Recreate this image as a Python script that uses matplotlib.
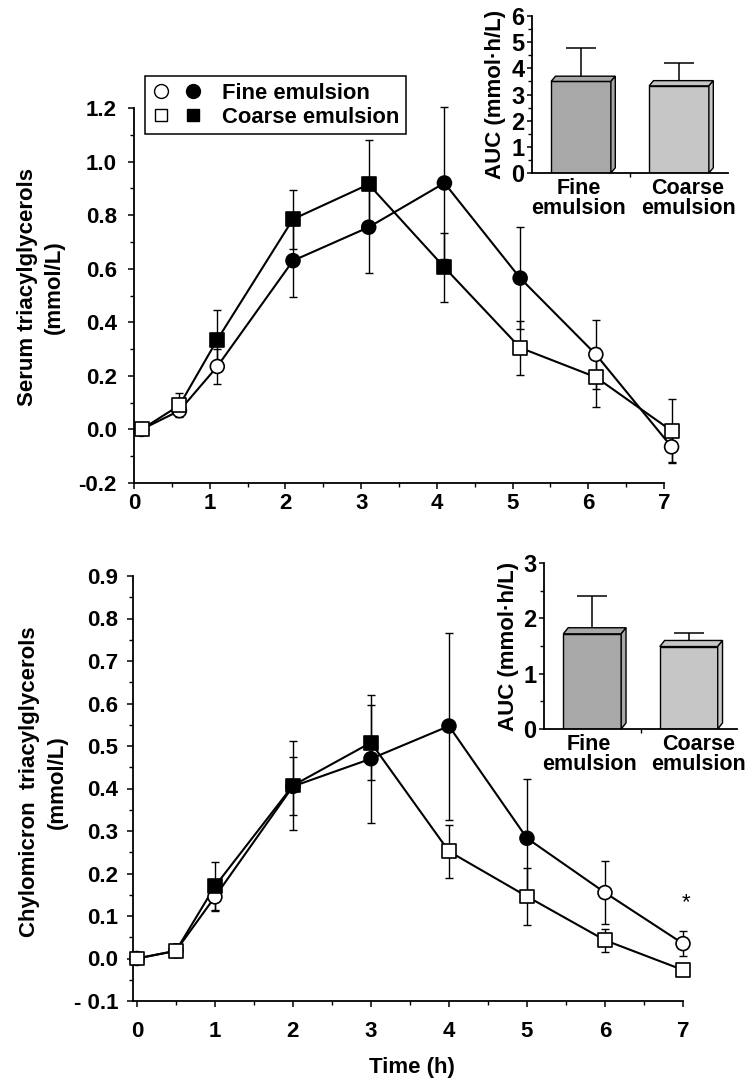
import numpy as np
import matplotlib
matplotlib.use("Agg")
import matplotlib.pyplot as plt
from matplotlib.lines import Line2D
from matplotlib.legend_handler import HandlerTuple
from matplotlib.patches import Polygon
from matplotlib.transforms import ScaledTranslation

plt.rcParams['font.family'] = ['Liberation Sans', 'DejaVu Sans']
plt.rcParams['font.weight'] = 'bold'

# serum triacylglycerols (top panel)
t_serum = [0.1, 0.6, 1.1, 2.1, 3.1, 4.1, 5.1, 6.1, 7.1]
fine_serum = [0.0, 0.07, 0.235, 0.63, 0.755, 0.92, 0.565, 0.28, -0.065]
fine_serum_se = [0, 0.02, 0.065, 0.135, 0.17, 0.285, 0.19, 0.13, 0.055]
fine_serum_filled = [0, 0, 0, 1, 1, 1, 1, 0, 0]
coarse_serum = [0.0, 0.09, 0.335, 0.785, 0.915, 0.605, 0.305, 0.195, -0.005]
coarse_serum_se = [0, 0.045, 0.11, 0.11, 0.165, 0.13, 0.10, 0.11, 0.12]
coarse_serum_filled = [0, 0, 1, 1, 1, 1, 0, 0, 0]

# chylomicron triacylglycerols (bottom panel)
t_chylo = [0, 0.5, 1, 2, 3, 4, 5, 6, 7]
fine_chylo = [0.0, 0.018, 0.145, 0.405, 0.47, 0.547, 0.283, 0.155, 0.035]
fine_chylo_se = [0, 0.012, 0.03, 0.068, 0.15, 0.22, 0.14, 0.074, 0.03]
fine_chylo_filled = [0, 0, 0, 1, 1, 1, 1, 0, 0]
coarse_chylo = [0.0, 0.018, 0.17, 0.407, 0.508, 0.252, 0.146, 0.043, -0.027]
coarse_chylo_se = [0, 0.015, 0.058, 0.105, 0.088, 0.063, 0.068, 0.027, 0.0]
coarse_chylo_filled = [0, 0, 1, 1, 1, 0, 0, 0, 0]

# AUC insets
auc_groups = ["Fine\nemulsion", "Coarse\nemulsion"]
auc_serum = [3.5, 3.33]
auc_serum_se = [1.27, 0.89]
auc_chylo = [1.72, 1.49]
auc_chylo_se = [0.68, 0.24]

serum_yticks = [-0.2, 0.0, 0.2, 0.4, 0.6, 0.8, 1.0, 1.2]
serum_ylabels = ["-0.2", "0.0", "0.2", "0.4", "0.6", "0.8", "1.0", "1.2"]
chylo_yticks = [-0.1, 0.0, 0.1, 0.2, 0.3, 0.4, 0.5, 0.6, 0.7, 0.8, 0.9]
chylo_ylabels = ["- 0.1", "0.0", "0.1", "0.2", "0.3", "0.4", "0.5", "0.6", "0.7", "0.8", "0.9"]

W, H = 752, 1081
fig = plt.figure(figsize=(W / 100, H / 100), dpi=100)


def px_axes(left, right, top, bottom):
    return fig.add_axes([left / W, 1 - bottom / H, (right - left) / W, (bottom - top) / H])


def style_axes(ax):
    for s in ['top', 'right']:
        ax.spines[s].set_visible(False)
    for s in ['left', 'bottom']:
        ax.spines[s].set_linewidth(1.3)
    ax.tick_params(which='major', direction='out', length=4.5, width=1.1)
    ax.tick_params(which='minor', direction='out', length=3, width=1.0)


def draw_series(ax, t, y, se, filled, marker):
    ax.errorbar(t, y, yerr=se, fmt='none', ecolor='black', elinewidth=1.0,
                capsize=3, capthick=1.0, zorder=2, clip_on=False)
    ax.plot(t, y, color='black', lw=1.5, zorder=3, clip_on=False)
    faces = ['black' if f else 'white' for f in filled]
    ax.scatter(t, y, s=100, marker=marker, facecolors=faces, edgecolors='black',
               linewidths=1.2, zorder=4, clip_on=False)


def draw_main(ax, t, fine, fine_se, fine_f, coarse, coarse_se, coarse_f):
    draw_series(ax, t, fine, fine_se, fine_f, 'o')
    draw_series(ax, t, coarse, coarse_se, coarse_f, 's')


def draw_auc(ax, vals, errs, width, dx, dy, colors, labelpad, shifts):
    xs = np.arange(len(vals))
    ax.errorbar(xs, vals, yerr=[np.zeros(len(errs)), errs], fmt='none', ecolor='black',
                elinewidth=1.1, capsize=11, capthick=1.1, zorder=1)
    ax.bar(xs, vals, width=width, color=colors, edgecolor='black', linewidth=1.0, zorder=2)
    for x, v, c in zip(xs, vals, colors):
        x0, x1 = x - width / 2, x + width / 2
        top = Polygon([(x0, v), (x0 + dx, v + dy), (x1 + dx, v + dy), (x1, v)],
                      closed=True, facecolor=c, edgecolor='black', lw=1.0, zorder=2)
        side = Polygon([(x1, 0), (x1 + dx, dy), (x1 + dx, v + dy), (x1, v)],
                       closed=True, facecolor=c, edgecolor='black', lw=1.0, zorder=2)
        ax.add_patch(top)
        ax.add_patch(side)
    ax.set_xlim(-0.5, 1.5)
    ax.set_xticks([])
    ax.set_xticks([0.5], minor=True)
    # group names as plain text, nudged sideways (px) so both "emulsion" keep a gap
    for x, lab, sh in zip(xs, auc_groups, shifts):
        tr = ax.get_xaxis_transform() + ScaledTranslation(sh / 100, -5 / 100, fig.dpi_scale_trans)
        ax.text(x, 0, lab, transform=tr, ha='center', va='top', fontsize=15.5,
                fontweight='bold', linespacing=0.95)
    ax.tick_params(axis='x', which='minor', length=3)
    ax.tick_params(axis='y', which='major', length=3.5)
    ax.tick_params(axis='y', labelsize=17, pad=2)
    ax.set_ylabel("AUC (mmol\u00b7h/L)", fontsize=16, fontweight='bold', labelpad=labelpad)
    ax.patch.set_alpha(0)


# --- top panel ---
ax1 = px_axes(134, 664, 108, 483)
style_axes(ax1)
draw_main(ax1, t_serum, fine_serum, fine_serum_se, fine_serum_filled,
          coarse_serum, coarse_serum_se, coarse_serum_filled)
ax1.set_xlim(0, 7)
ax1.set_ylim(-0.2, 1.2)
ax1.set_xticks(range(8))
ax1.set_xticks(np.arange(0.5, 7, 1.0), minor=True)
ax1.set_yticks(serum_yticks)
ax1.set_yticklabels(serum_ylabels)
ax1.set_yticks(np.arange(-0.1, 1.2, 0.2), minor=True)
ax1.tick_params(labelsize=16)
ax1.tick_params(axis='y', pad=8)
ax1.tick_params(axis='x', pad=3)
fig.text(41 / W, 1 - 287 / H, "Serum triacylglycerols\n(mmol/L)", rotation=90,
         ha='center', va='center', fontsize=16, fontweight='bold', linespacing=1.4)

h_fine = (Line2D([], [], ls='none', marker='o', mfc='white', mec='black', ms=10),
          Line2D([], [], ls='none', marker='o', mfc='black', mec='black', ms=10))
h_coarse = (Line2D([], [], ls='none', marker='s', mfc='white', mec='black', ms=9),
            Line2D([], [], ls='none', marker='s', mfc='black', mec='black', ms=9))
leg = fig.legend([h_fine, h_coarse], ["Fine emulsion", "Coarse emulsion"],
                 handler_map={tuple: HandlerTuple(ndivide=None, pad=0.6)},
                 loc='upper left', bbox_to_anchor=(145 / W, 1 - 76 / H),
                 bbox_transform=fig.transFigure, borderaxespad=0, fancybox=False,
                 edgecolor='black', framealpha=1, handlelength=2.3, handletextpad=0.9,
                 borderpad=0.3, labelspacing=0.15, prop={'size': 15.8, 'weight': 'bold'})
leg.get_frame().set_linewidth(1.1)

ins1 = px_axes(532, 728, 16, 173)
style_axes(ins1)
draw_auc(ins1, auc_serum, auc_serum_se, 0.61, 0.045, 0.2, ['#a8a8a8', '#c6c6c6'], 4, [-2, 9])
ins1.set_ylim(0, 6)
ins1.set_yticks(range(7))
ins1.set_yticks(np.arange(0.5, 6, 1.0), minor=True)

# --- bottom panel ---
ax2 = px_axes(133, 683, 576, 1001)
style_axes(ax2)
draw_main(ax2, t_chylo, fine_chylo, fine_chylo_se, fine_chylo_filled,
          coarse_chylo, coarse_chylo_se, coarse_chylo_filled)
ax2.set_xlim(-0.05, 7)
ax2.set_ylim(-0.1, 0.9)
ax2.set_xticks(range(8))
ax2.set_xticks(np.arange(0.5, 7, 1.0), minor=True)
ax2.set_yticks(chylo_yticks)
ax2.set_yticklabels(chylo_ylabels)
ax2.set_yticks(np.arange(-0.05, 0.9, 0.1), minor=True)
ax2.tick_params(labelsize=16)
ax2.tick_params(axis='y', pad=6)
ax2.tick_params(axis='x', pad=10)
ax2.text(7.04, 0.132, "*", fontsize=16, fontweight='normal', ha='center', va='center')
fig.text(412 / W, 1 - 1067 / H, "Time (h)", ha='center', va='center',
         fontsize=16, fontweight='bold')
fig.text(43.5 / W, 1 - 782 / H, "Chylomicron  triacylglycerols\n(mmol/L)", rotation=90,
         ha='center', va='center', fontsize=16, fontweight='bold', linespacing=1.45)

ins2 = px_axes(544, 737, 563, 729)
style_axes(ins2)
draw_auc(ins2, auc_chylo, auc_chylo_se, 0.6, 0.05, 0.11, ['#a8a8a8', '#c6c6c6'], 3, [-3, 10])
ins2.set_ylim(0, 3)
ins2.set_yticks(range(4))
ins2.set_yticks(np.arange(0.5, 3, 1.0), minor=True)

fig.savefig("out.png", dpi=100)
